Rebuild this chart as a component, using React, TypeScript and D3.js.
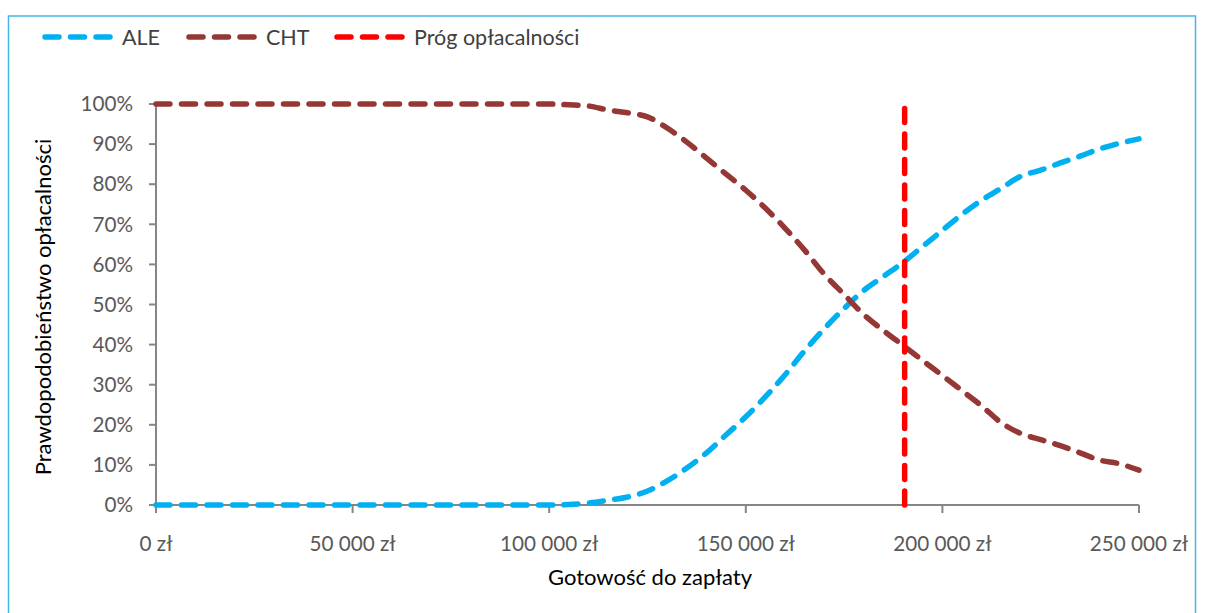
import React from "react";
import * as d3 from "d3";

// Willingness to pay (zł) at which the probabilities were evaluated
const wtp = [
  0, 10000, 20000, 30000, 40000, 50000, 60000, 70000, 80000, 90000, 100000,
  105000, 110000, 115000, 120000, 125000, 130000, 135000, 140000, 145000, 150000,
  155000, 160000, 165000, 170000, 175000, 180000, 185000, 190000, 195000, 200000,
  205000, 210000, 215000, 220000, 225000, 230000, 235000, 240000, 245000, 250000,
];

// Probability of cost-effectiveness (%)
const ale = [
  0, 0, 0, 0, 0, 0, 0, 0, 0, 0, 0,
  0.1, 0.5, 1.2, 2.0, 3.5, 6.0, 9.2, 13, 17.5, 22,
  27, 32.5, 38.5, 44, 49, 53.5, 57, 60.5, 64.5, 68.5,
  72.5, 76, 79, 82, 83.5, 85.3, 87, 88.8, 90.2, 91.3,
];
const cht = [
  100, 100, 100, 100, 100, 100, 100, 100, 100, 100, 100,
  99.8, 99.5, 98.5, 97.8, 96.8, 94, 90.5, 86.5, 82.5, 78.5,
  74, 69, 63.5, 57.5, 52.5, 47.5, 43.5, 39.8, 36, 32.3,
  28.5, 24.7, 20.5, 17.8, 16.3, 14.8, 13, 11.2, 10.3, 8.7,
];

// Cost-effectiveness threshold (vertical line)
const thresholdX = [190400, 190400];
const thresholdY = [0, 100];

const xTicks = [0, 50000, 100000, 150000, 200000, 250000];
const yTicks = [0, 10, 20, 30, 40, 50, 60, 70, 80, 90, 100];

const seriesNames = ["ALE", "CHT", "Próg opłacalności"];
const seriesColors = ["#00B0F0", "#953735", "#FF0000"];

const W = 1206;
const H = 613;
const FONT = "Lato, 'Open Sans', sans-serif";
const DASH = "14 11.5";

const fmtZl = (v: number) =>
  d3.format(",")(v).replace(/,/g, " ") + " zł";

export default function App() {
  const x = d3.scaleLinear().domain([0, 250000]).range([156, 1139]);
  const y = d3.scaleLinear().domain([0, 100]).range([505, 104]);

  const line = d3
    .line<[number, number]>()
    .x((d) => x(d[0]))
    .y((d) => y(d[1]))
    .curve(d3.curveCatmullRom.alpha(0.5));

  const straight = d3
    .line<[number, number]>()
    .x((d) => x(d[0]))
    .y((d) => y(d[1]));

  const alePts = wtp.map((v, i) => [v, ale[i]] as [number, number]);
  const chtPts = wtp.map((v, i) => [v, cht[i]] as [number, number]);
  const thrPts = thresholdX.map((v, i) => [v, thresholdY[i]] as [number, number]);

  const legendX = [45, 189, 337];

  return (
    <div style={{ position: "fixed", left: 0, top: 0 }}>
      <svg width={W} height={H} style={{ display: "block", background: "#fff" }}>
        <rect x={8.5} y={16} width={1187} height={640} fill="#fff" stroke="#45B5E5" strokeWidth={1.5} />

        {/* legend */}
        {seriesNames.map((name, i) => (
          <g key={name}>
            <line
              x1={legendX[i]}
              x2={legendX[i] + 66}
              y1={37}
              y2={37}
              stroke={seriesColors[i]}
              strokeWidth={5.5}
              strokeLinecap="round"
              strokeDasharray={DASH}
            />
            <text
              x={legendX[i] + 77}
              y={37}
              dy="0.35em"
              fontFamily={FONT}
              fontSize={21.5}
              fill="#404040"
            >
              {name}
            </text>
          </g>
        ))}

        {/* y axis */}
        <line x1={156} x2={156} y1={y(100)} y2={y(0)} stroke="#868686" strokeWidth={2} />
        {yTicks.map((t) => (
          <g key={t}>
            <line x1={149} x2={156} y1={y(t)} y2={y(t)} stroke="#868686" strokeWidth={2} />
            <text
              x={133}
              y={y(t)}
              dy="0.35em"
              textAnchor="end"
              fontFamily={FONT}
              fontSize={20.7}
              fill="#595959"
            >
              {t + "%"}
            </text>
          </g>
        ))}

        {/* x axis */}
        <line x1={x(0)} x2={x(250000)} y1={505} y2={505} stroke="#868686" strokeWidth={2} />
        {xTicks.map((t) => (
          <g key={t}>
            <line x1={x(t)} x2={x(t)} y1={505} y2={513} stroke="#868686" strokeWidth={2} />
            <text
              x={x(t)}
              y={544}
              dy="0.35em"
              textAnchor="middle"
              fontFamily={FONT}
              fontSize={20.7}
              fill="#595959"
            >
              {fmtZl(t)}
            </text>
          </g>
        ))}

        {/* axis titles */}
        <text
          x={650}
          y={577}
          dy="0.35em"
          textAnchor="middle"
          fontFamily={FONT}
          fontSize={22}
          fill="#000"
        >
          Gotowość do zapłaty
        </text>
        <text
          transform={`translate(43, 307) rotate(-90)`}
          dy="0.35em"
          textAnchor="middle"
          fontFamily={FONT}
          fontSize={22}
          fill="#000"
        >
          Prawdopodobieństwo opłacalności
        </text>

        {/* series */}
        <path d={line(alePts) || ""} fill="none" stroke={seriesColors[0]} strokeWidth={5.5} strokeLinecap="round" strokeDasharray={DASH} />
        <path d={line(chtPts) || ""} fill="none" stroke={seriesColors[1]} strokeWidth={5.5} strokeLinecap="round" strokeDasharray={DASH} />
        <path d={straight(thrPts) || ""} fill="none" stroke={seriesColors[2]} strokeWidth={5.5} strokeLinecap="round" strokeDasharray={DASH} />
      </svg>
    </div>
  );
}
